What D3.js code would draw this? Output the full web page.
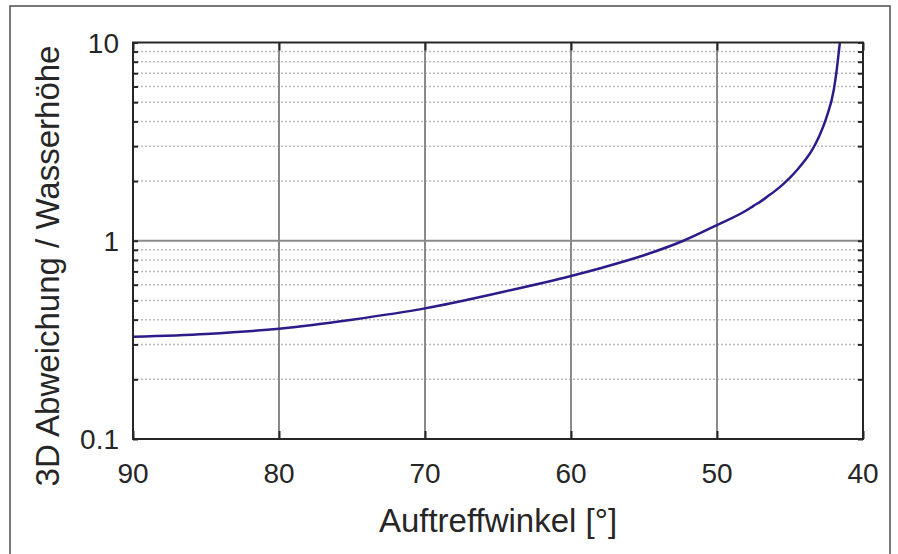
<!DOCTYPE html>
<html>
<head>
<meta charset="utf-8">
<script src="https://cdn.jsdelivr.net/npm/d3@7"></script>
<style>
  html, body { margin: 0; padding: 0; background: #fff; }
  svg { display: block; font-family: "Liberation Sans", Arial, Helvetica, sans-serif; }
</style>
</head>
<body>
<svg id="chart" width="898" height="554"></svg>
<script>
// ---- data ----
const angles = [90, 85, 80, 75, 70, 65, 60, 58, 55, 52.3, 50, 48, 47.5, 47, 46.5, 46, 45.5, 45, 44.5, 44, 43.5, 43, 42.5, 42, 41.8, 41.7, 41.6, 41.585];
const ratios = [0.328, 0.339, 0.360, 0.400, 0.456, 0.545, 0.664, 0.727, 0.845, 1.0, 1.20, 1.42, 1.50, 1.58, 1.68, 1.79, 1.92, 2.08, 2.28, 2.53, 2.86, 3.37, 4.19, 5.78, 7.28, 8.41, 9.77, 10];
const xTicks = [90, 80, 70, 60, 50, 40];
const yTicks = [0.1, 1, 10];
const yTickLabels = ["0.1", "1", "10"];
const xLabel = "Auftreffwinkel [°]";
const yLabel = "3D Abweichung / Wasserhöhe";

(function () {
const svg = d3.select("#chart");
const W = 898, H = 554;
const pL = 133, pR = 863, pT = 42.5, pB = 439;

svg.append("rect").attr("width", W).attr("height", H).attr("fill", "#fff");
// outer frame
svg.append("rect").attr("x", 10).attr("y", 6).attr("width", 880).attr("height", 560)
  .attr("fill", "none").attr("stroke", "#4d4d4d").attr("stroke-width", 1.5);

const x = d3.scaleLinear().domain([90, 40]).range([pL, pR]);
const y = d3.scaleLog().domain([0.1, 10]).range([pB, pT]);

const textColor = "#262626";

// minor grid (dotted)
const minor = [];
[0.1, 1].forEach(d => { for (let k = 2; k <= 9; k++) minor.push(d * k); });
svg.append("g").selectAll("line").data(minor).join("line")
  .attr("x1", pL).attr("x2", pR)
  .attr("y1", d => y(d)).attr("y2", d => y(d))
  .attr("stroke", "#bcbcbc").attr("stroke-width", 1.5).attr("stroke-dasharray", "2,2");

// major grid
svg.append("g").selectAll("line").data(xTicks.slice(1, -1)).join("line")
  .attr("x1", d => x(d)).attr("x2", d => x(d)).attr("y1", pT).attr("y2", pB)
  .attr("stroke", "#8a8a8a").attr("stroke-width", 2);
svg.append("g").selectAll("line").data([1]).join("line")
  .attr("x1", pL).attr("x2", pR).attr("y1", d => y(d)).attr("y2", d => y(d))
  .attr("stroke", "#8a8a8a").attr("stroke-width", 2);

// axes using d3 axes (ticks inward)
const yTickVals = yTicks.concat(minor);
const axL = d3.axisLeft(y).tickValues(yTickVals).tickSize(-5).tickFormat("");
const axR = d3.axisRight(y).tickValues(yTickVals).tickSize(-5).tickFormat("");
const axB = d3.axisBottom(x).tickValues(xTicks).tickSize(-8).tickFormat("");
const axT = d3.axisTop(x).tickValues(xTicks).tickSize(-8).tickFormat("");
function style(g) {
  g.select(".domain").remove();
  g.selectAll(".tick line").attr("stroke", textColor).attr("stroke-width", 2);
}
svg.append("g").attr("transform", `translate(${pL},0)`).call(axL).call(style);
svg.append("g").attr("transform", `translate(${pR},0)`).call(axR).call(style);
svg.append("g").attr("transform", `translate(0,${pB})`).call(axB).call(style);
svg.append("g").attr("transform", `translate(0,${pT})`).call(axT).call(style);

// curve (clipped to plot area)
svg.append("clipPath").attr("id", "plotclip").append("rect")
  .attr("x", pL).attr("y", pT).attr("width", pR - pL).attr("height", pB - pT);
const pts = angles.map((a, i) => [a, ratios[i]]);
svg.append("path").datum(pts)
  .attr("clip-path", "url(#plotclip)")
  .attr("d", d3.line().x(d => x(d[0])).y(d => y(d[1])).curve(d3.curveMonotoneX))
  .attr("fill", "none").attr("stroke", "#2c1c8a").attr("stroke-width", 2.5);

// box
svg.append("rect").attr("x", pL).attr("y", pT).attr("width", pR - pL).attr("height", pB - pT)
  .attr("fill", "none").attr("stroke", textColor).attr("stroke-width", 2);

// tick labels
svg.append("g").selectAll("text").data(xTicks).join("text")
  .attr("x", d => x(d)).attr("y", 483).attr("text-anchor", "middle")
  .attr("font-size", 28).attr("fill", textColor).text(d => d);
svg.append("g").selectAll("text").data(yTicks).join("text")
  .attr("x", 119).attr("y", d => y(d) + 10).attr("text-anchor", "end")
  .attr("font-size", 28).attr("fill", textColor).text((d, i) => yTickLabels[i]);

// axis titles
svg.append("text").attr("x", 498).attr("y", 532).attr("text-anchor", "middle")
  .attr("font-size", 33).attr("fill", textColor).text(xLabel);
svg.append("text").attr("transform", "translate(59,266) rotate(-90)").attr("text-anchor", "middle")
  .attr("font-size", 33).attr("fill", textColor).text(yLabel);
})();
</script>
</body>
</html>
